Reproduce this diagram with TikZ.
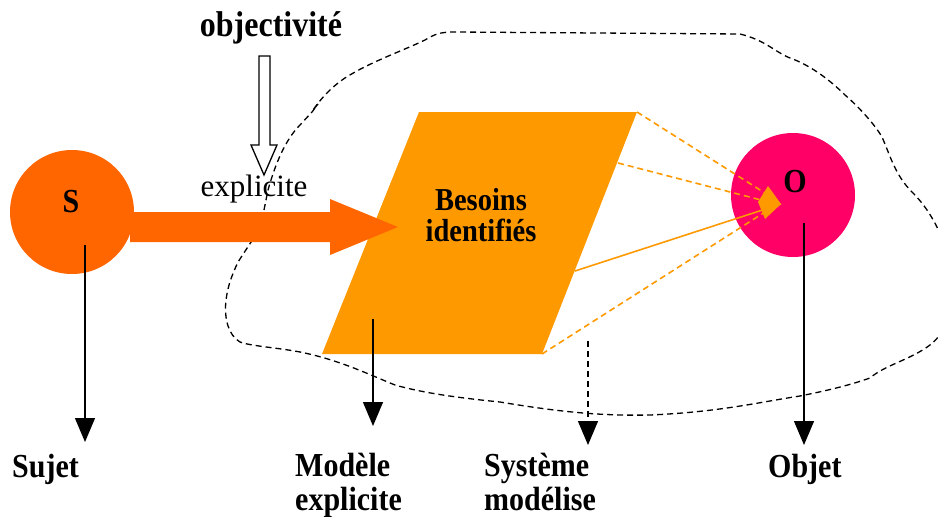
\documentclass[tikz,border=0pt]{standalone}
\usepackage{fontspec}
\usepackage{graphicx}
\setmainfont{Liberation Serif}
\usetikzlibrary{arrows.meta}
\definecolor{sorange}{HTML}{FF6600}
\definecolor{porange}{HTML}{FF9900}
\definecolor{opink}{HTML}{FF0066}
\newcommand\vst[1]{\scalebox{1}[1.12]{#1}}
\tikzset{
  lab/.style={font=\fontsize{30}{34}\selectfont\bfseries, inner sep=0pt, align=left},
  blob/.style={dash pattern=on 6pt off 4pt, line width=1.3pt},
  varrow/.style={line width=1.3pt, -{Triangle[length=24pt,width=20pt]}},
  oline/.style={porange, line width=1.6pt},
  odash/.style={porange, line width=1.6pt, dash pattern=on 6pt off 4pt},
}
\begin{document}
\begin{tikzpicture}[x=1pt,y=-1pt]
\useasboundingbox (0,0) rectangle (938,517);
% dashed outline (system)
\begin{scope}
\clip (0,0) rectangle (938,517);
\draw[blob] (264,210) -- (268,190) .. controls (275,165) and (285,140) .. (300,125)
  -- (312,112) -- (318,104) -- (313,110) .. controls (320,100) and (330,88) .. (345,78)
  .. controls (370,62) and (400,52) .. (425,40) .. controls (435,34) and (440,32) .. (455,32)
  -- (740,34) .. controls (765,40) and (775,52) .. (790,58)
  .. controls (810,65) and (830,80) .. (845,95) .. controls (860,108) and (875,125) .. (882,137)
  .. controls (890,155) and (895,175) .. (912,192) .. controls (925,205) and (935,220) .. (945,245)
  .. controls (955,300) and (950,330) .. (930,345) .. controls (910,360) and (885,365) .. (870,378)
  .. controls (850,385) and (830,390) .. (800,396) .. controls (760,402) and (720,412) .. (650,415)
  .. controls (600,416) and (560,412) .. (500,402) .. controls (450,397) and (420,392) .. (395,385)
  .. controls (370,375) and (340,360) .. (300,352) .. controls (280,348) and (250,346) .. (240,342)
  .. controls (228,335) and (224,318) .. (226,300) .. controls (228,285) and (232,275) .. (238,262)
  -- (255,236);
\end{scope}
% hollow arrow
\node[lab, font=\fontsize{32}{35}\selectfont\bfseries, anchor=base] (obj) at (271,36) {\vst{objectivité}};
\draw[line width=1.3pt, fill=white] (259,56) -- (270,56) -- (270,145) -- (277,145)
  -- (264,175) -- (251,145) -- (259,145) -- cycle;
\node[font=\fontsize{31}{35}\selectfont, inner sep=0pt, anchor=base] (expl) at (254,196) {explicite};
% parallelogram
\coordinate (p1) at (419,112);
\coordinate (p2) at (637,112);
\coordinate (p3) at (542,354);
\coordinate (p4) at (322,354);
\fill[porange] (p1) -- (p2) -- (p3) -- (p4) -- cycle;
\node[lab, font=\fontsize{28.5}{31}\selectfont\bfseries, align=center] (bes) at (481,215) {\vst{Besoins}\\\vst{identifiés}};
% S circle
\node[circle, fill=sorange, minimum size=124pt, inner sep=0pt] (S) at (72,212) {};
\fill[sorange] (130,212) -- (330,212) -- (330,199) -- (398,227) -- (330,255) -- (330,242) -- (130,242) -- cycle;
\node[lab, anchor=base] (Slab) at (71,212) {\vst{S}};
% O circle
\node[circle, fill=opink, minimum size=124pt, inner sep=0pt] (O) at (793,195) {};
\node[lab, anchor=base] (Olab) at (795,192) {\vst{O}};
% orange links
\coordinate (tip) at (781,204);
\coordinate (q2) at (618,163);
\coordinate (q3) at (575,271);
\draw[odash] (p2) -- (768,195);
\draw[odash] (q2) -- (765,201);
\draw[odash] (p3) -- (765,212);
\draw[oline] (q3) -- (tip);
\fill[porange] (768,186) -- (tip) -- (765,219) -- (758,202) -- cycle;
% labels
\node[lab, anchor=base west] (sujet) at (12,477) {\vst{Sujet}};
\node[lab, anchor=base west] (modele) at (295,510) {\vst{Modèle}\\\vst{explicite}};
\node[lab, anchor=base west] (systeme) at (484,510) {\vst{Système}\\\vst{modélise}};
\node[lab, anchor=base west] (objet) at (768,477) {\vst{Objet}};
% vertical arrows
\coordinate (a1) at (85,245);
\coordinate (a1t) at (85,442);
\coordinate (a2) at (373,319);
\coordinate (a2t) at (373,426);
\coordinate (a3) at (588,341);
\coordinate (a3t) at (588,445);
\coordinate (a4) at (804,223);
\coordinate (a4t) at (804,445);
\draw[varrow] (a1) -- (a1t);
\draw[varrow] (a2) -- (a2t);
\draw[varrow, dash pattern=on 6pt off 4pt] (a3) -- (a3t);
\draw[varrow] (a4) -- (a4t);
\end{tikzpicture}
\end{document}
